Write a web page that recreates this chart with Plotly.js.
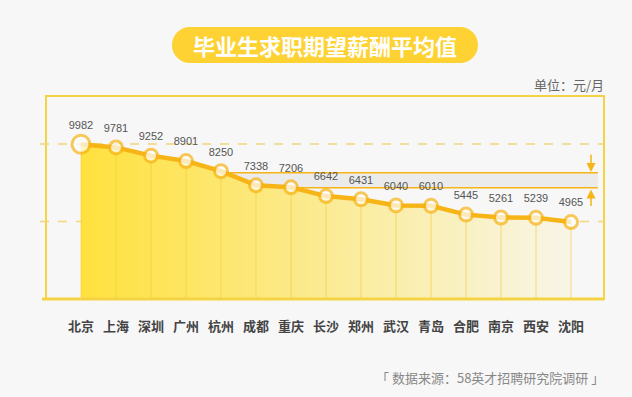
<!DOCTYPE html>
<html><head><meta charset="utf-8">
<script src="https://cdn.plot.ly/plotly-3.0.1.min.js"></script>
<style>html,body{margin:0;padding:0;background:#f7f7f7;}#chart{width:632px;height:397px;}</style>
</head><body><div id="chart"></div>
<script>
// ---- data ----
const cities = ['北京','上海','深圳','广州','杭州','成都','重庆','长沙','郑州','武汉','青岛','合肥','南京','西安','沈阳'];
const salaries = [9982, 9781, 9252, 8901, 8250, 7338, 7206, 6642, 6431, 6040, 6010, 5445, 5261, 5239, 4965];
const chartTitle = '毕业生求职期望薪酬平均值';
const unitText = '单位：元/月';
const sourceText = '「 数据来源：58英才招聘研究院调研 」';
const refLines = [10000, 5000];
const bandRange = [7180, 8140];

// ---- layout helpers (pixel -> paper) ----
const L = 46, R = 604, T = 96, B = 299;
const px = x => (x - L) / (R - L);
const py = y => (B - y) / (B - T);

const idx = cities.map((c, i) => i);
const ORANGE = '#f7b417';
const FRAME = '#f4d444';
const CJK = '"Noto Sans CJK SC", "Noto Sans", sans-serif';

const traces = [
  {
    x: idx, y: salaries, type: 'scatter', mode: 'lines', fill: 'tozeroy',
    line: {width: 0, color: 'rgba(0,0,0,0)'},
    fillgradient: {type: 'horizontal', colorscale: [[0, '#ffe13d'], [0.5, '#fbeb94'], [1, '#f8f5e8']]},
    hoverinfo: 'skip', showlegend: false
  },
  {
    x: idx, y: salaries, type: 'scatter', mode: 'markers',
    marker: {size: 1, opacity: 0},
    error_y: {type: 'data', symmetric: false, array: salaries.map(() => 0), arrayminus: salaries,
              width: 0, thickness: 1, color: 'rgba(240,205,50,0.6)'},
    hoverinfo: 'skip', showlegend: false
  },
  {
    x: idx, y: salaries, type: 'scatter', mode: 'lines+markers',
    line: {color: ORANGE, width: 4.5},
    marker: {color: '#ffffff', size: salaries.map((v, i) => i === 0 ? 18 : 13),
             line: {color: ORANGE, width: 3}},
    hoverinfo: 'skip', showlegend: false
  },
  {
    x: idx, y: salaries, type: 'scatter', mode: 'markers+text',
    marker: {size: 19, opacity: 0},
    text: salaries.map(String), textposition: 'top center',
    textfont: {family: '"Liberation Sans", Arial, sans-serif', size: 11, color: '#555555'},
    hoverinfo: 'skip', showlegend: false
  }
];

const shapes = [
  // frame
  {type: 'rect', xref: 'paper', yref: 'paper', x0: 0, x1: 1, y0: 0, y1: 1,
   line: {color: FRAME, width: 2}, layer: 'below'},
  {type: 'line', xref: 'paper', yref: 'paper', x0: px(42), x1: 1, y0: 0, y1: 0,
   line: {color: FRAME, width: 3}},
  // band
  {type: 'rect', xref: 'x', yref: 'y', x0: 4, x1: 14.77, y0: bandRange[0], y1: bandRange[1],
   fillcolor: '#ebebeb', line: {width: 0}, layer: 'below'},
  {type: 'line', xref: 'x', yref: 'y', x0: 4, x1: 14.77, y0: bandRange[1], y1: bandRange[1],
   line: {color: ORANGE, width: 1.5}, layer: 'below'},
  {type: 'line', xref: 'x', yref: 'y', x0: 4, x1: 14.77, y0: bandRange[0], y1: bandRange[0],
   line: {color: ORANGE, width: 1.5}, layer: 'below'},
  // title pill
  {type: 'rect', xref: 'paper', yref: 'paper', x0: px(190), x1: px(460), y0: py(63), y1: py(27),
   fillcolor: '#fdd232', line: {width: 0}},
  {type: 'circle', xref: 'paper', yref: 'paper', x0: px(172), x1: px(208), y0: py(63), y1: py(27),
   fillcolor: '#fdd232', line: {width: 0}},
  {type: 'circle', xref: 'paper', yref: 'paper', x0: px(442), x1: px(478), y0: py(63), y1: py(27),
   fillcolor: '#fdd232', line: {width: 0}}
];
refLines.forEach(v => shapes.push({
  type: 'line', xref: 'paper', yref: 'y', x0: px(40), x1: 1, y0: v, y1: v,
  line: {color: '#f2d679', width: 1.5, dash: 'dash'}, layer: 'below'
}));

const annotations = [
  {text: chartTitle, xref: 'paper', yref: 'paper', x: px(325), y: py(45), xanchor: 'center', yanchor: 'middle',
   showarrow: false, font: {family: CJK, size: 22, color: '#ffffff', weight: 'bold'}},
  {text: unitText, xref: 'paper', yref: 'paper', x: px(606), y: py(84), xanchor: 'right', yanchor: 'middle',
   showarrow: false, font: {family: CJK, size: 13, color: '#666666'}},
  {text: sourceText, xref: 'paper', yref: 'paper', x: px(606), y: py(377), xanchor: 'right', yanchor: 'middle',
   showarrow: false, font: {family: CJK, size: 13, color: '#888888'}},
  {text: '', xref: 'paper', yref: 'y', x: px(591), y: bandRange[1] + 60, ax: 0, ay: -19,
   showarrow: true, arrowhead: 2, arrowsize: 1.2, arrowwidth: 1.5, arrowcolor: ORANGE},
  {text: '', xref: 'paper', yref: 'y', x: px(591), y: bandRange[0] - 120, ax: 0, ay: 18,
   showarrow: true, arrowhead: 2, arrowsize: 1.2, arrowwidth: 1.5, arrowcolor: ORANGE}
];

const layout = {
  width: 632, height: 397,
  margin: {l: L, r: 632 - R, t: T, b: 397 - B, pad: 0},
  paper_bgcolor: '#f7f7f7', plot_bgcolor: '#f7f7f7',
  xaxis: {range: [-1, 14.943], tickvals: idx, ticktext: cities, showgrid: false, zeroline: false,
          showline: false, ticks: '', ticklabelstandoff: 18, fixedrange: true,
          tickfont: {family: CJK, size: 13, color: '#444444', weight: 'bold'}},
  yaxis: {range: [0, 13100], visible: false, showgrid: false, zeroline: false, fixedrange: true},
  shapes: shapes, annotations: annotations, showlegend: false
};

Plotly.newPlot('chart', traces, layout, {displayModeBar: false, staticPlot: true});
</script>
</body></html>
